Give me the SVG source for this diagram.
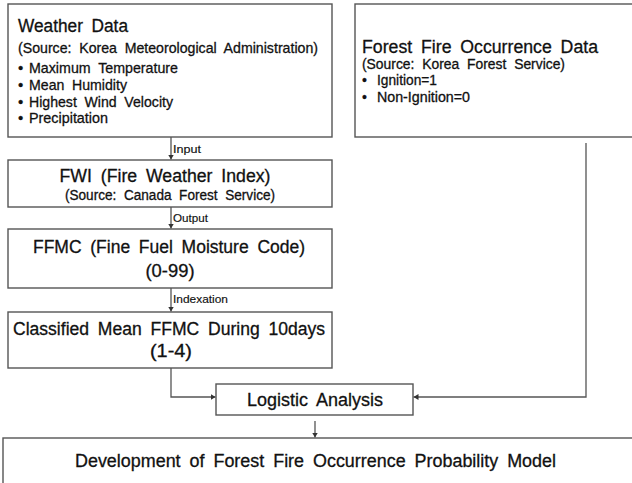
<svg xmlns="http://www.w3.org/2000/svg" width="632" height="483" viewBox="0 0 632 483">
<style>
  .box { fill: #ffffff; stroke: #555555; stroke-width: 1.4; }
  .conn { fill: none; stroke: #555555; stroke-width: 1.3; }
  text { font-family: "Liberation Sans Narrow", "Arial Narrow", "Liberation Sans", Arial, sans-serif; fill: #111111; stroke: #111111; stroke-width: 0.3; word-spacing: 4px; }
  .t17 { font-size: 18px; }
  .t14 { font-size: 15px; }
  .t13 { font-size: 14px; }
  .lbl { font-size: 11px; stroke-width: 0.15; }
  .mid { text-anchor: middle; }
</style>
<defs>
  <marker id="arr" markerWidth="6" markerHeight="6" refX="5" refY="3" orient="auto" markerUnits="userSpaceOnUse">
    <path d="M0,0 L5,3 L0,6 Z" fill="#333333"/>
  </marker>
</defs>
<rect width="632" height="483" fill="#ffffff"/>

<g id="connectors">
  <line class="conn" x1="171" y1="137" x2="171" y2="159.5" marker-end="url(#arr)"/>
  <line class="conn" x1="171" y1="207" x2="171" y2="228.5" marker-end="url(#arr)"/>
  <line class="conn" x1="171" y1="288" x2="171" y2="311.5" marker-end="url(#arr)"/>
  <polyline class="conn" points="171,368 171,397 215.5,397" marker-end="url(#arr)"/>
  <polyline class="conn" points="586,143 586,397 413.5,397" marker-end="url(#arr)"/>
  <line class="conn" x1="315" y1="421" x2="315" y2="437.5" marker-end="url(#arr)"/>
  <text class="lbl" x="173" y="153" textLength="28" lengthAdjust="spacingAndGlyphs">Input</text>
  <text class="lbl" x="173" y="222" textLength="35" lengthAdjust="spacingAndGlyphs">Output</text>
  <text class="lbl" x="173" y="303" textLength="55" lengthAdjust="spacingAndGlyphs">Indexation</text>
</g>

<g id="weather">
  <rect class="box" x="8" y="4" width="324" height="133"/>
  <text class="t17" x="18" y="32" textLength="110" lengthAdjust="spacingAndGlyphs">Weather Data</text>
  <text class="t14" x="18" y="53" textLength="300" lengthAdjust="spacingAndGlyphs">(Source: Korea Meteorological Administration)</text>
  <text class="t14" x="18" y="73">•</text>
  <text class="t14" x="29" y="73" textLength="149" lengthAdjust="spacingAndGlyphs">Maximum Temperature</text>
  <text class="t14" x="18" y="90">•</text>
  <text class="t14" x="29" y="90" textLength="98" lengthAdjust="spacingAndGlyphs">Mean Humidity</text>
  <text class="t14" x="18" y="107">•</text>
  <text class="t14" x="29" y="107" textLength="144" lengthAdjust="spacingAndGlyphs">Highest Wind Velocity</text>
  <text class="t14" x="18" y="123">•</text>
  <text class="t14" x="29" y="123" textLength="79" lengthAdjust="spacingAndGlyphs">Precipitation</text>
</g>

<g id="forest">
  <rect class="box" x="355" y="4" width="290" height="133"/>
  <text class="t17" x="362" y="53" textLength="236" lengthAdjust="spacingAndGlyphs">Forest Fire Occurrence Data</text>
  <text class="t13" x="362" y="69" textLength="203" lengthAdjust="spacingAndGlyphs">(Source: Korea Forest Service)</text>
  <text class="t13" x="362" y="85">•</text>
  <text class="t13" x="377" y="85" textLength="60" lengthAdjust="spacingAndGlyphs">Ignition=1</text>
  <text class="t13" x="362" y="102">•</text>
  <text class="t13" x="377" y="102" textLength="93" lengthAdjust="spacingAndGlyphs">Non-Ignition=0</text>
</g>

<g id="fwi">
  <rect class="box" x="8" y="160" width="324" height="47"/>
  <text class="t17 mid" x="165" y="182" textLength="211" lengthAdjust="spacingAndGlyphs">FWI (Fire Weather Index)</text>
  <text class="t13 mid" x="170" y="200" textLength="210" lengthAdjust="spacingAndGlyphs">(Source: Canada Forest Service)</text>
</g>

<g id="ffmc">
  <rect class="box" x="8" y="229" width="324" height="59"/>
  <text class="t17 mid" x="169" y="253" textLength="272" lengthAdjust="spacingAndGlyphs">FFMC (Fine Fuel Moisture Code)</text>
  <text class="t17 mid" x="170" y="277" textLength="49" lengthAdjust="spacingAndGlyphs">(0-99)</text>
</g>

<g id="classified">
  <rect class="box" x="8" y="312" width="324" height="56"/>
  <text class="t17 mid" x="169" y="335" textLength="312" lengthAdjust="spacingAndGlyphs">Classified Mean FFMC During 10days</text>
  <text class="t17 mid" x="171" y="357" textLength="42" lengthAdjust="spacingAndGlyphs">(1-4)</text>
</g>

<g id="logistic">
  <rect class="box" x="216" y="384" width="197" height="31"/>
  <text class="t17 mid" x="315" y="406" textLength="136" lengthAdjust="spacingAndGlyphs">Logistic Analysis</text>
</g>

<g id="development">
  <rect class="box" x="3" y="438" width="660" height="60"/>
  <text class="t17 mid" x="315.5" y="467" textLength="481" lengthAdjust="spacingAndGlyphs">Development of Forest Fire Occurrence Probability Model</text>
</g>
</svg>
